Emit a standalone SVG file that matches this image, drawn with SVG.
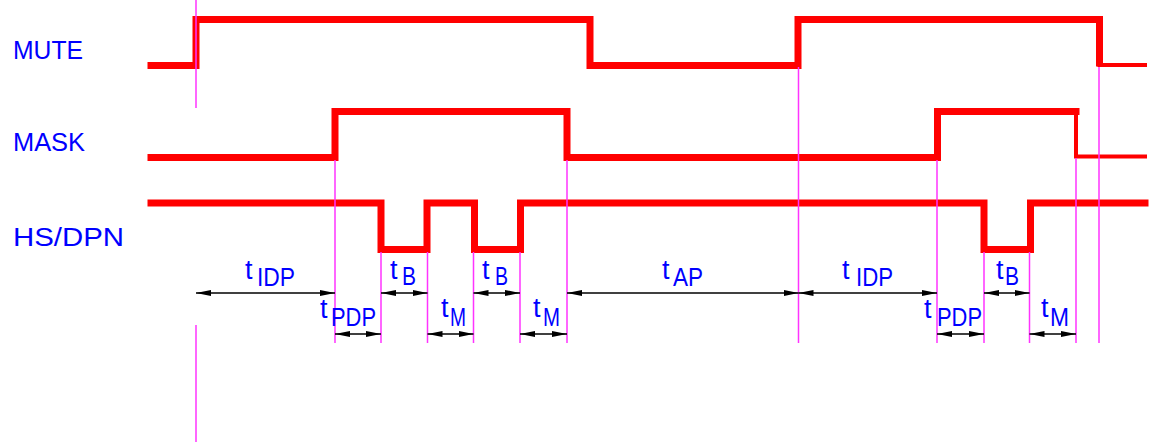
<svg xmlns="http://www.w3.org/2000/svg" width="1150" height="442" viewBox="0 0 1150 442">
<style>
.sig{fill:none;stroke:#ff0000;stroke-width:7;stroke-linejoin:miter;stroke-linecap:square}
.thin{fill:none;stroke:#ff0000;stroke-width:4;stroke-linecap:square}
.ext{stroke:#ff33ff;stroke-width:1.5}
.dim{stroke:#000;stroke-width:1.5;marker-start:url(#ar);marker-end:url(#ar)}
.lbl{font-family:"Liberation Sans",Arial,sans-serif;font-size:26px;fill:#0000ff}
.t{font-family:"Liberation Sans",Arial,sans-serif;font-size:26px;fill:#0000ff}
.tt{font-family:"Liberation Sans",Arial,sans-serif;font-size:27px;fill:#0000ff}
</style>
<defs>
<marker id="ar" markerUnits="userSpaceOnUse" markerWidth="16" markerHeight="8" viewBox="0 -4 16 8" refX="15" refY="0" orient="auto-start-reverse">
<path d="M0,-3 L15,0 L0,3 Z" fill="#000"/>
</marker>
</defs>
<g id="mute">
<text class="lbl" x="13" y="59" textLength="70" lengthAdjust="spacingAndGlyphs">MUTE</text>
<path class="sig" d="M151,65.5 H196 V19.5 H590 V65.5 H798 V19.5 H1099.5 V63"/>
<path class="thin" d="M1099.5,65 H1145"/>
</g>
<g id="mask">
<text class="lbl" x="13" y="151" textLength="72" lengthAdjust="spacingAndGlyphs">MASK</text>
<path class="sig" d="M151,157.5 H335 V111.5 H567 V157.5 H937.5 V111.5 H1076"/>
<path class="thin" d="M1076,111.5 V156.5 H1145"/>
</g>
<g id="hsdpn">
<text class="lbl" x="13" y="246" textLength="111" lengthAdjust="spacingAndGlyphs">HS/DPN</text>
<path class="sig" d="M151,203 H381 V249.5 H427 V203 H474.5 V249.5 H520.5 V203 H984 V249.5 H1030.5 V203 H1145"/>
</g>
<g id="extension-lines">
<line class="ext" x1="196" y1="0" x2="196" y2="108"/>
<line class="ext" x1="196" y1="325" x2="196" y2="442"/>
<line class="ext" x1="335" y1="160" x2="335" y2="343"/>
<line class="ext" x1="381" y1="252" x2="381" y2="343"/>
<line class="ext" x1="427.5" y1="252" x2="427.5" y2="343"/>
<line class="ext" x1="473.5" y1="252" x2="473.5" y2="343"/>
<line class="ext" x1="520" y1="252" x2="520" y2="343"/>
<line class="ext" x1="567" y1="160" x2="567" y2="343"/>
<line class="ext" x1="798.5" y1="67" x2="798.5" y2="343"/>
<line class="ext" x1="937" y1="160" x2="937" y2="343"/>
<line class="ext" x1="984" y1="252" x2="984" y2="343"/>
<line class="ext" x1="1029.5" y1="252" x2="1029.5" y2="343"/>
<line class="ext" x1="1076" y1="158" x2="1076" y2="343"/>
<line class="ext" x1="1099" y1="67" x2="1099" y2="343"/>
</g>
<g id="connectors">
<line class="dim" x1="196" y1="293" x2="335" y2="293"/>
<line class="dim" x1="381" y1="293" x2="427.5" y2="293"/>
<line class="dim" x1="473.5" y1="293" x2="520" y2="293"/>
<line class="dim" x1="567" y1="293" x2="798.5" y2="293"/>
<line class="dim" x1="798.5" y1="293" x2="937" y2="293"/>
<line class="dim" x1="984" y1="293" x2="1029.5" y2="293"/>
<line class="dim" x1="335" y1="334" x2="381" y2="334"/>
<line class="dim" x1="427.5" y1="334" x2="473.5" y2="334"/>
<line class="dim" x1="520" y1="334" x2="567" y2="334"/>
<line class="dim" x1="937" y1="334" x2="984" y2="334"/>
<line class="dim" x1="1029.5" y1="334" x2="1076" y2="334"/>
</g>
<g id="labels">
<g id="tidp1"><text class="tt" x="245" y="279">t</text><text class="t" x="257" y="286" textLength="38" lengthAdjust="spacingAndGlyphs">IDP</text></g>
<g id="tpdp1"><text class="tt" x="320" y="318">t</text><text class="t" x="331" y="326" textLength="45" lengthAdjust="spacingAndGlyphs">PDP</text></g>
<g id="tb1"><text class="tt" x="390" y="279">t</text><text class="t" x="402" y="285" textLength="14" lengthAdjust="spacingAndGlyphs">B</text></g>
<g id="tm1"><text class="tt" x="441" y="317">t</text><text class="t" x="450" y="326" textLength="16" lengthAdjust="spacingAndGlyphs">M</text></g>
<g id="tb2"><text class="tt" x="482" y="279">t</text><text class="t" x="495" y="285" textLength="13" lengthAdjust="spacingAndGlyphs">B</text></g>
<g id="tm2"><text class="tt" x="533" y="317">t</text><text class="t" x="543" y="326" textLength="17" lengthAdjust="spacingAndGlyphs">M</text></g>
<g id="tap"><text class="tt" x="662" y="279">t</text><text class="t" x="673" y="286" textLength="30" lengthAdjust="spacingAndGlyphs">AP</text></g>
<g id="tidp2"><text class="tt" x="842" y="279">t</text><text class="t" x="856" y="286" textLength="37" lengthAdjust="spacingAndGlyphs">IDP</text></g>
<g id="tpdp2"><text class="tt" x="924" y="318">t</text><text class="t" x="937" y="326" textLength="45" lengthAdjust="spacingAndGlyphs">PDP</text></g>
<g id="tb3"><text class="tt" x="996" y="279">t</text><text class="t" x="1005" y="285" textLength="14" lengthAdjust="spacingAndGlyphs">B</text></g>
<g id="tm3"><text class="tt" x="1041" y="317">t</text><text class="t" x="1050" y="326" textLength="19" lengthAdjust="spacingAndGlyphs">M</text></g>
</g>
</svg>
